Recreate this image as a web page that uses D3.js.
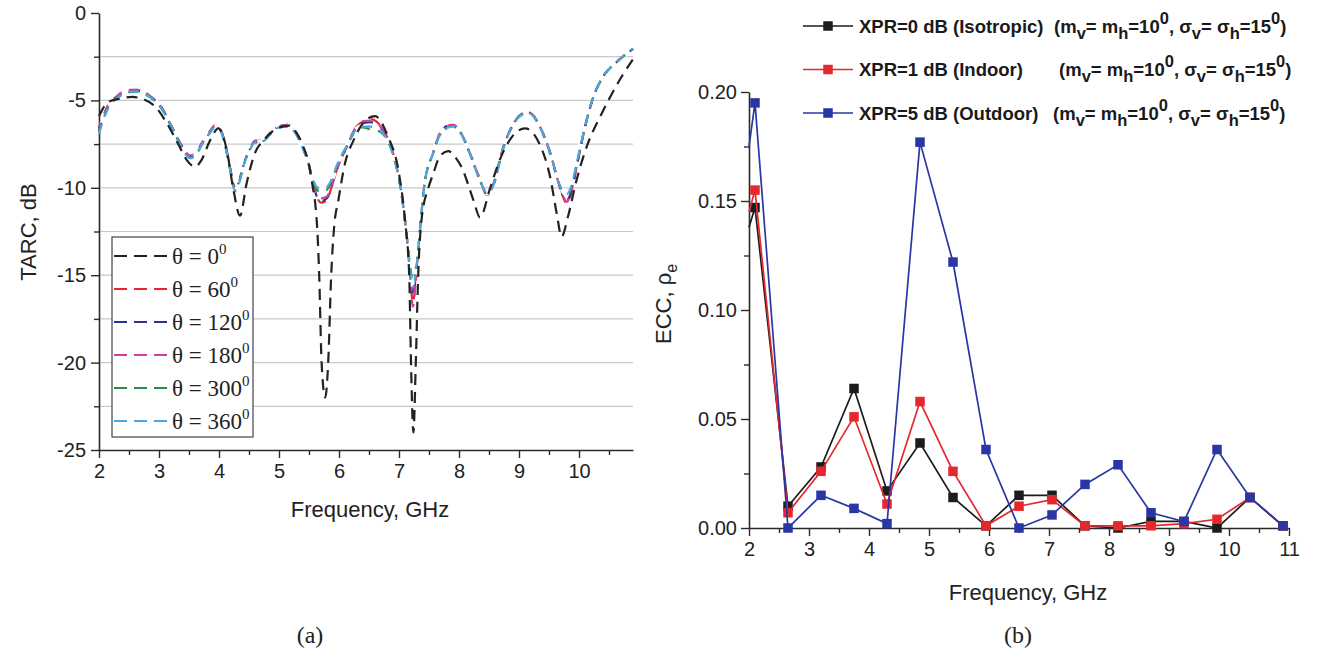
<!DOCTYPE html>
<html>
<head>
<meta charset="utf-8">
<script src="https://cdn.jsdelivr.net/npm/d3@7"></script>
<style>
  html, body { margin: 0; padding: 0; background: #fff; }
  svg { display: block; }
  .sans { font-family: "Liberation Sans", Arial, sans-serif; }
  .serif { font-family: "Liberation Serif", "Times New Roman", serif; }
</style>
</head>
<body>
<svg id="fig" width="1321" height="651"></svg>
<script>
// ---------- (a) TARC versus frequency for several rotation angles ----------
const freqTheta0 = [2.00, 2.15, 2.35, 2.55, 2.75, 2.95, 3.13, 3.32, 3.46, 3.60, 3.71, 3.85, 3.99, 4.13, 4.24, 4.35, 4.46, 4.60, 4.74, 4.88, 5.05, 5.16, 5.30, 5.40, 5.50, 5.56, 5.61, 5.64, 5.67, 5.71, 5.77, 5.82, 5.87, 5.92, 5.99, 6.10, 6.24, 6.40, 6.60, 6.82, 6.99, 7.10, 7.17, 7.20, 7.24, 7.28, 7.32, 7.38, 7.49, 7.57, 7.68, 7.82, 7.95, 8.04, 8.24, 8.35, 8.52, 8.68, 8.88, 9.10, 9.35, 9.52, 9.63, 9.71, 9.82, 9.96, 10.15, 10.35, 10.52, 10.71, 10.90];
const tarcTheta0 = [-5.9, -5.1, -4.9, -4.8, -4.95, -5.4, -6.3, -7.5, -8.4, -8.8, -8.4, -7.3, -6.6, -7.85, -10.1, -11.6, -9.75, -8.0, -7.3, -6.8, -6.5, -6.45, -6.9, -7.6, -8.7, -9.9, -11.1, -12.5, -15.0, -20.0, -22.0, -20.0, -15.0, -12.2, -10.7, -8.6, -7.3, -6.3, -5.9, -7.1, -9.0, -11.85, -15.0, -20.0, -24.0, -20.0, -15.0, -11.7, -10.0, -9.2, -8.2, -7.9, -8.3, -8.8, -10.7, -11.7, -10.0, -8.4, -7.1, -6.6, -7.55, -9.4, -11.5, -12.8, -11.6, -9.55, -7.45, -5.95, -4.8, -3.65, -2.65];

const freqRotated = [2.00, 2.08, 2.16, 2.30, 2.46, 2.62, 2.77, 2.90, 3.04, 3.21, 3.38, 3.52, 3.62, 3.71, 3.85, 3.94, 4.04, 4.12, 4.18, 4.27, 4.34, 4.40, 4.50, 4.60, 4.71, 4.80, 4.88, 5.00, 5.14, 5.27, 5.38, 5.49, 5.56, 5.63, 5.70, 5.80, 5.88, 5.96, 6.13, 6.29, 6.40, 6.52, 6.62, 6.74, 6.90, 7.04, 7.13, 7.19, 7.23, 7.28, 7.35, 7.42, 7.57, 7.68, 7.82, 7.90, 8.02, 8.18, 8.35, 8.47, 8.60, 8.71, 8.85, 9.00, 9.13, 9.25, 9.35, 9.52, 9.68, 9.80, 9.88, 9.96, 10.13, 10.24, 10.40, 10.63, 10.90];
const tarcTheta60 = [-6.7, -5.9, -5.27, -4.8, -4.45, -4.4, -4.6, -4.9, -5.4, -6.5, -7.65, -8.2, -8.0, -7.5, -6.8, -6.4, -6.8, -7.8, -8.8, -10.1, -9.6, -8.8, -7.9, -7.35, -7.35, -7.1, -6.8, -6.5, -6.4, -6.8, -7.55, -8.6, -9.6, -10.5, -10.85, -10.7, -9.9, -9.0, -7.65, -6.5, -6.2, -6.05, -6.2, -6.7, -8.0, -10.3, -12.8, -15.2, -16.6, -15.2, -12.4, -9.9, -8.0, -6.9, -6.45, -6.4, -6.8, -8.0, -9.55, -10.4, -9.55, -8.0, -6.7, -5.9, -5.65, -5.9, -6.5, -8.0, -9.95, -10.9, -10.2, -8.8, -6.1, -4.8, -3.65, -2.8, -2.05];
const tarcTheta120 = [-6.6, -5.85, -5.25, -4.8, -4.45, -4.45, -4.6, -4.9, -5.4, -6.5, -7.6, -8.2, -8.0, -7.5, -6.8, -6.45, -6.8, -7.8, -8.8, -10.0, -9.6, -8.8, -7.9, -7.35, -7.35, -7.1, -6.8, -6.5, -6.45, -6.8, -7.55, -8.6, -9.6, -10.5, -10.75, -10.6, -9.9, -9.0, -7.65, -6.55, -6.3, -6.25, -6.3, -6.75, -8.0, -10.3, -12.8, -15.0, -16.2, -15.0, -12.4, -9.9, -8.0, -6.9, -6.45, -6.45, -6.8, -8.0, -9.55, -10.4, -9.55, -8.0, -6.7, -5.9, -5.7, -5.95, -6.5, -8.0, -9.95, -10.7, -10.1, -8.8, -6.1, -4.8, -3.65, -2.8, -2.05];
const tarcTheta180 = [-6.5, -5.8, -5.2, -4.75, -4.4, -4.4, -4.55, -4.9, -5.4, -6.5, -7.6, -8.15, -8.0, -7.45, -6.75, -6.4, -6.75, -7.75, -8.8, -10.0, -9.6, -8.8, -7.9, -7.3, -7.3, -7.05, -6.75, -6.45, -6.4, -6.75, -7.5, -8.6, -9.6, -10.4, -10.6, -10.5, -9.8, -9.0, -7.6, -6.5, -6.2, -6.15, -6.25, -6.7, -8.0, -10.3, -12.8, -15.3, -16.8, -15.3, -12.4, -9.9, -8.0, -6.9, -6.45, -6.4, -6.8, -8.0, -9.5, -10.35, -9.5, -8.0, -6.7, -5.9, -5.65, -5.9, -6.5, -8.0, -9.9, -10.8, -10.1, -8.8, -6.1, -4.8, -3.65, -2.8, -2.05];
const tarcTheta300 = [-6.8, -6.0, -5.35, -4.85, -4.55, -4.5, -4.65, -4.95, -5.45, -6.55, -7.7, -8.3, -8.1, -7.55, -6.85, -6.5, -6.85, -7.85, -8.85, -10.1, -9.6, -8.8, -7.9, -7.4, -7.4, -7.15, -6.85, -6.55, -6.5, -6.85, -7.6, -8.6, -9.5, -10.1, -10.25, -10.1, -9.6, -8.8, -7.6, -6.7, -6.55, -6.65, -6.7, -6.95, -8.1, -10.3, -12.8, -14.6, -15.3, -14.6, -12.4, -9.9, -8.0, -7.0, -6.55, -6.5, -6.85, -8.05, -9.6, -10.4, -9.6, -8.05, -6.75, -5.95, -5.7, -5.95, -6.55, -8.05, -9.9, -10.5, -9.9, -8.7, -6.1, -4.8, -3.65, -2.8, -2.05];
const tarcTheta360 = [-6.9, -6.05, -5.4, -4.9, -4.55, -4.5, -4.65, -4.95, -5.45, -6.55, -7.7, -8.3, -8.1, -7.55, -6.85, -6.5, -6.85, -7.85, -8.85, -10.2, -9.7, -8.85, -7.95, -7.4, -7.4, -7.15, -6.85, -6.55, -6.5, -6.85, -7.6, -8.6, -9.45, -9.95, -10.05, -9.95, -9.5, -8.75, -7.6, -6.65, -6.5, -6.5, -6.6, -6.9, -8.1, -10.3, -12.8, -14.8, -15.6, -14.8, -12.4, -9.9, -8.0, -7.0, -6.55, -6.5, -6.85, -8.05, -9.6, -10.3, -9.6, -8.05, -6.75, -5.95, -5.7, -5.95, -6.55, -8.05, -9.85, -10.35, -9.8, -8.6, -6.1, -4.8, -3.65, -2.8, -2.05];

const thetaLabels = ["0", "60", "120", "180", "300", "360"];
const thetaColors = ["#222222", "#e8262b", "#2b3190", "#d23e9e", "#2c8a4c", "#4aa8df"];

const tarcXTicks = [2, 3, 4, 5, 6, 7, 8, 9, 10];
const tarcYTicks = [0, -5, -10, -15, -20, -25];

// ---------- (b) ECC versus frequency for three propagation scenarios ----------
const freqECC = [2.0, 2.1, 2.65, 3.2, 3.75, 4.3, 4.85, 5.4, 5.95, 6.5, 7.05, 7.6, 8.15, 8.7, 9.25, 9.8, 10.35, 10.9];
const eccIsotropic = [0.138, 0.147, 0.010, 0.028, 0.064, 0.017, 0.039, 0.014, 0.001, 0.015, 0.015, 0.001, 0.000, 0.003, 0.003, 0.000, 0.014, 0.001];
const eccIndoor    = [0.145, 0.155, 0.007, 0.026, 0.051, 0.011, 0.058, 0.026, 0.001, 0.010, 0.013, 0.001, 0.001, 0.001, 0.002, 0.004, 0.014, 0.001];
const eccOutdoor   = [0.175, 0.195, 0.000, 0.015, 0.009, 0.002, 0.177, 0.122, 0.036, 0.000, 0.006, 0.020, 0.029, 0.007, 0.003, 0.036, 0.014, 0.001];

const xprNames = ["XPR=0 dB (Isotropic)", "XPR=1 dB (Indoor)", "XPR=5 dB (Outdoor)"];
const xprColors = ["#1c1c1c", "#e5282b", "#2a36a6"];

const eccXTicks = [2, 3, 4, 5, 6, 7, 8, 9, 10, 11];
const eccYTicks = [0, 0.05, 0.10, 0.15, 0.20];

// ---------- drawing ----------
const svg = d3.select("#fig");
svg.append("rect").attr("width", 1321).attr("height", 651).attr("fill", "#fff");

const axisColor = "#2a2a2a";
const styleAxis = (g, fontSize) => {
  g.select(".domain").attr("stroke", axisColor).attr("stroke-width", 1.6);
  g.selectAll(".tick line").attr("stroke", axisColor).attr("stroke-width", 1.4);
  g.selectAll(".tick text").attr("fill", "#222").attr("font-size", fontSize)
    .attr("font-family", "Liberation Sans, Arial, sans-serif");
};
const minorTicks = g => g.call(s => s.select(".domain").remove())
  .call(s => s.selectAll(".tick line").attr("stroke", axisColor).attr("stroke-width", 1.4));

// ===== panel (a) =====
const xA = d3.scaleLinear().domain([2, 10.9]).range([99, 633]);
const yA = d3.scaleLinear().domain([-25, 0]).range([450, 13]);

const pa = svg.append("g");

// horizontal grid every 2.5 dB
pa.append("g").selectAll("line")
  .data(d3.range(-2.5, -24, -2.5))
  .join("line")
  .attr("x1", xA(2)).attr("x2", xA(10.9))
  .attr("y1", d => yA(d)).attr("y2", d => yA(d))
  .attr("stroke", "#c9c9c9").attr("stroke-width", 1.2);

pa.append("g").attr("transform", `translate(0,${yA(-25)})`)
  .call(d3.axisBottom(xA).tickValues(d3.range(2.5, 10.6, 1)).tickSize(5).tickFormat(""))
  .call(minorTicks);
pa.append("g").attr("transform", `translate(${xA(2)},0)`)
  .call(d3.axisLeft(yA).tickValues(d3.range(-2.5, -24, -5)).tickSize(5).tickFormat(""))
  .call(minorTicks);

pa.append("g").attr("transform", `translate(0,${yA(-25)})`)
  .call(d3.axisBottom(xA).tickValues(tarcXTicks).tickSize(8).tickSizeOuter(0).tickPadding(6).tickFormat(d => String(d)))
  .call(g => styleAxis(g, 20));
pa.append("g").attr("transform", `translate(${xA(2)},0)`)
  .call(d3.axisLeft(yA).tickValues(tarcYTicks).tickSize(8).tickSizeOuter(0).tickPadding(5).tickFormat(d => String(d)))
  .call(g => styleAxis(g, 20));

const lineA = d3.line().x(d => xA(d[0])).y(d => yA(d[1])).curve(d3.curveMonotoneX);
const rotatedSeries = [tarcTheta60, tarcTheta120, tarcTheta180, tarcTheta300, tarcTheta360];
const dashShift = [0, 2, 4, 2, 0];

rotatedSeries.forEach((vals, i) => {
  pa.append("path")
    .datum(freqRotated.map((f, k) => [f, vals[k]]))
    .attr("d", lineA)
    .attr("fill", "none")
    .attr("stroke", thetaColors[i + 1])
    .attr("stroke-width", 2.2)
    .attr("stroke-dasharray", "10 8")
    .attr("stroke-dashoffset", dashShift[i]);
});
// open up the gaps of the overlapping coloured dashes
pa.append("path")
  .datum(freqRotated.map((f, k) => [f, tarcTheta360[k]]))
  .attr("d", lineA)
  .attr("fill", "none")
  .attr("stroke", "#fff")
  .attr("stroke-width", 5)
  .attr("stroke-dasharray", "6 12")
  .attr("stroke-dashoffset", 7);
pa.append("path")
  .datum(freqTheta0.map((f, k) => [f, tarcTheta0[k]]))
  .attr("d", lineA)
  .attr("fill", "none")
  .attr("stroke", thetaColors[0])
  .attr("stroke-width", 2.2)
  .attr("stroke-dasharray", "11 7");

// legend (a)
const legA = pa.append("g");
legA.append("rect").attr("x", 112).attr("y", 237).attr("width", 141).attr("height", 200)
  .attr("fill", "#fff").attr("stroke", "#444").attr("stroke-width", 1.2);
thetaLabels.forEach((lab, i) => {
  const yy = 256 + i * 33;
  legA.append("line").attr("x1", 114).attr("x2", 167).attr("y1", yy).attr("y2", yy)
    .attr("stroke", thetaColors[i]).attr("stroke-width", 2.2).attr("stroke-dasharray", "13 7");
  const t = legA.append("text").attr("class", "serif").attr("x", 172).attr("y", yy + 8)
    .attr("font-size", 23).attr("fill", "#222");
  t.append("tspan").text("θ = " + lab);
  t.append("tspan").attr("dy", -10).attr("font-size", 15).text("0");
});

// axis titles (a)
svg.append("text").attr("class", "sans")
  .attr("transform", "translate(36,232) rotate(-90)")
  .attr("text-anchor", "middle").attr("font-size", 22).attr("fill", "#222")
  .text("TARC, dB");
svg.append("text").attr("class", "sans")
  .attr("x", 370).attr("y", 517).attr("text-anchor", "middle")
  .attr("font-size", 22).attr("fill", "#222").text("Frequency, GHz");
svg.append("text").attr("class", "serif")
  .attr("x", 310).attr("y", 643).attr("text-anchor", "middle")
  .attr("font-size", 24).attr("fill", "#222").text("(a)");

// ===== panel (b) =====
const xB = d3.scaleLinear().domain([2, 11]).range([749, 1289]);
const yB = d3.scaleLinear().domain([0, 0.2]).range([528, 92]);
const pb = svg.append("g");

pb.append("g").attr("transform", `translate(0,${yB(0)})`)
  .call(d3.axisBottom(xB).tickValues(d3.range(2.5, 10.6, 1)).tickSize(5).tickFormat(""))
  .call(minorTicks);
pb.append("g").attr("transform", `translate(${xB(2)},0)`)
  .call(d3.axisLeft(yB).tickValues([0.025, 0.075, 0.125, 0.175]).tickSize(5).tickFormat(""))
  .call(minorTicks);

pb.append("g").attr("transform", `translate(0,${yB(0)})`)
  .call(d3.axisBottom(xB).tickValues(eccXTicks).tickSize(8).tickSizeOuter(0).tickPadding(6).tickFormat(d => String(d)))
  .call(g => styleAxis(g, 20));
pb.append("g").attr("transform", `translate(${xB(2)},0)`)
  .call(d3.axisLeft(yB).tickValues(eccYTicks).tickSize(8).tickSizeOuter(0).tickPadding(4).tickFormat(d3.format(".2f")))
  .call(g => styleAxis(g, 20));

const lineB = d3.line().x(d => xB(d[0])).y(d => yB(d[1]));
const eccSeries = [eccIsotropic, eccIndoor, eccOutdoor];
const mk = 9.5;
eccSeries.forEach((vals, i) => {
  const pts = freqECC.map((f, k) => [f, vals[k]]);
  pb.append("path").datum(pts).attr("d", lineB)
    .attr("fill", "none").attr("stroke", xprColors[i]).attr("stroke-width", 1.7);
  pb.append("g").selectAll("rect")
    .data(pts.filter(p => p[0] > 2))
    .join("rect")
    .attr("x", d => xB(d[0]) - mk / 2).attr("y", d => yB(d[1]) - mk / 2)
    .attr("width", mk).attr("height", mk)
    .attr("fill", xprColors[i]);
});

// legend (b)
const legB = pb.append("g");
const paramX = [1054, 1059, 1053];
xprNames.forEach((name, i) => {
  const yy = 26 + i * 43.5;
  legB.append("line").attr("x1", 803).attr("x2", 853).attr("y1", yy).attr("y2", yy)
    .attr("stroke", xprColors[i]).attr("stroke-width", 1.7);
  legB.append("rect").attr("x", 828 - mk / 2).attr("y", yy - mk / 2)
    .attr("width", mk).attr("height", mk).attr("fill", xprColors[i]);
  legB.append("text").attr("class", "sans").attr("x", 859).attr("y", yy + 6.5)
    .attr("font-size", 18.5).attr("font-weight", "bold").attr("fill", "#1a1a1a")
    .text(name);
  const t = legB.append("text").attr("class", "sans").attr("x", paramX[i]).attr("y", yy + 6.5)
    .attr("font-size", 18.5).attr("font-weight", "bold").attr("fill", "#1a1a1a");
  const parts = [
    ["(m", 0], ["v", 1], ["= m", 0], ["h", 1], ["=10", 0], ["0", -1],
    [", σ", 0], ["v", 1], ["= σ", 0], ["h", 1], ["=15", 0], ["0", -1], [")", 0]
  ];
  let shift = 0;
  parts.forEach(([s, k]) => {
    const target = k === 1 ? 6 : (k === -1 ? -9 : 0);
    t.append("tspan").attr("dy", target - shift)
      .attr("font-size", k === 0 ? 18.5 : 16.5).text(s);
    shift = target;
  });
});

// axis titles (b)
const eccTitle = svg.append("text").attr("class", "sans")
  .attr("transform", "translate(671,304) rotate(-90)")
  .attr("text-anchor", "middle").attr("font-size", 22).attr("fill", "#222");
eccTitle.append("tspan").text("ECC, ρ");
eccTitle.append("tspan").attr("dy", 6).attr("font-size", 16).text("e");
svg.append("text").attr("class", "sans")
  .attr("x", 1028).attr("y", 600).attr("text-anchor", "middle")
  .attr("font-size", 22).attr("fill", "#222").text("Frequency, GHz");
svg.append("text").attr("class", "serif")
  .attr("x", 1018).attr("y", 643).attr("text-anchor", "middle")
  .attr("font-size", 24).attr("fill", "#222").text("(b)");
</script>
</body>
</html>
